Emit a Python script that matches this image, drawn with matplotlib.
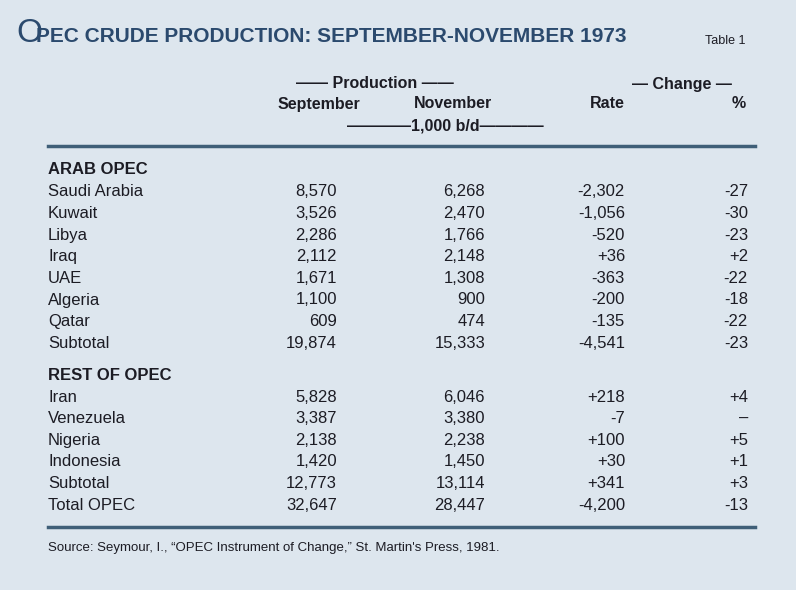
import matplotlib.pyplot as plt

# table data
arab_names = ["Saudi Arabia", "Kuwait", "Libya", "Iraq", "UAE", "Algeria", "Qatar", "Subtotal"]
arab_sep = ["8,570", "3,526", "2,286", "2,112", "1,671", "1,100", "609", "19,874"]
arab_nov = ["6,268", "2,470", "1,766", "2,148", "1,308", "900", "474", "15,333"]
arab_rate = ["-2,302", "-1,056", "-520", "+36", "-363", "-200", "-135", "-4,541"]
arab_pct = ["-27", "-30", "-23", "+2", "-22", "-18", "-22", "-23"]

rest_names = ["Iran", "Venezuela", "Nigeria", "Indonesia", "Subtotal", "Total OPEC"]
rest_sep = ["5,828", "3,387", "2,138", "1,420", "12,773", "32,647"]
rest_nov = ["6,046", "3,380", "2,238", "1,450", "13,114", "28,447"]
rest_rate = ["+218", "-7", "+100", "+30", "+341", "-4,200"]
rest_pct = ["+4", "\u2013", "+5", "+1", "+3", "-13"]

bg = "#dde6ee"
title_col = "#2b4a6e"
txt = "#1c1c24"
line_col = "#3f5f78"

fig = plt.figure(figsize=(7.96, 5.90), dpi=100, facecolor=bg)
ax = fig.add_axes([0, 0, 1, 1])
ax.set_xlim(0, 796)
ax.set_ylim(590, 0)
ax.axis("off")

# title
ax.text(16, 34, "O", fontsize=24, color=title_col, va="center", family="Liberation Sans")
ax.text(36, 36, "PEC CRUDE PRODUCTION: SEPTEMBER-NOVEMBER 1973", fontsize=15, color=title_col,
        va="center", family="Liberation Sans", fontweight="bold")
ax.text(705, 41, "Table 1", fontsize=9, color=txt, va="center", family="Liberation Sans")

hdr = dict(fontsize=11.5, color=txt, va="center", fontweight="bold", family="Liberation Sans")
ax.text(375, 84, "\u2014\u2014 Production \u2014\u2014", ha="center", **hdr)
ax.text(682, 84, "\u2014 Change \u2014", ha="center", **hdr)
ax.text(360, 104, "September", ha="right", **hdr)
ax.text(492, 104, "November", ha="right", **hdr)
ax.text(625, 104, "Rate", ha="right", **hdr)
ax.text(746, 104, "%", ha="right", **hdr)
ax.text(445, 126, "\u2014\u2014\u2014\u20141,000 b/d\u2014\u2014\u2014\u2014", ha="center", **hdr)

ax.plot([48, 755], [146, 146], color=line_col, lw=2.5)
ax.plot([48, 755], [527, 527], color=line_col, lw=2.5)

cell = dict(fontsize=12, color=txt, va="center", family="Liberation Sans")


def draw_block(y0, heading, names, sep, nov, rate, pct):
    ax.text(48, y0, heading, fontweight="bold", **cell)
    for i, name in enumerate(names):
        y = y0 + 22 + 21.6 * i
        ax.text(48, y, name, ha="left", **cell)
        ax.text(337, y, sep[i], ha="right", **cell)
        ax.text(485, y, nov[i], ha="right", **cell)
        ax.text(625, y, rate[i], ha="right", **cell)
        ax.text(748, y, pct[i], ha="right", **cell)


draw_block(170, "ARAB OPEC", arab_names, arab_sep, arab_nov, arab_rate, arab_pct)
draw_block(375, "REST OF OPEC", rest_names, rest_sep, rest_nov, rest_rate, rest_pct)

ax.text(48, 548, "Source: Seymour, I., \u201cOPEC Instrument of Change,\u201d St. Martin's Press, 1981.",
        fontsize=9.5, color=txt, va="center", family="Liberation Sans")

fig.savefig("out.png", dpi=100, facecolor=bg)
